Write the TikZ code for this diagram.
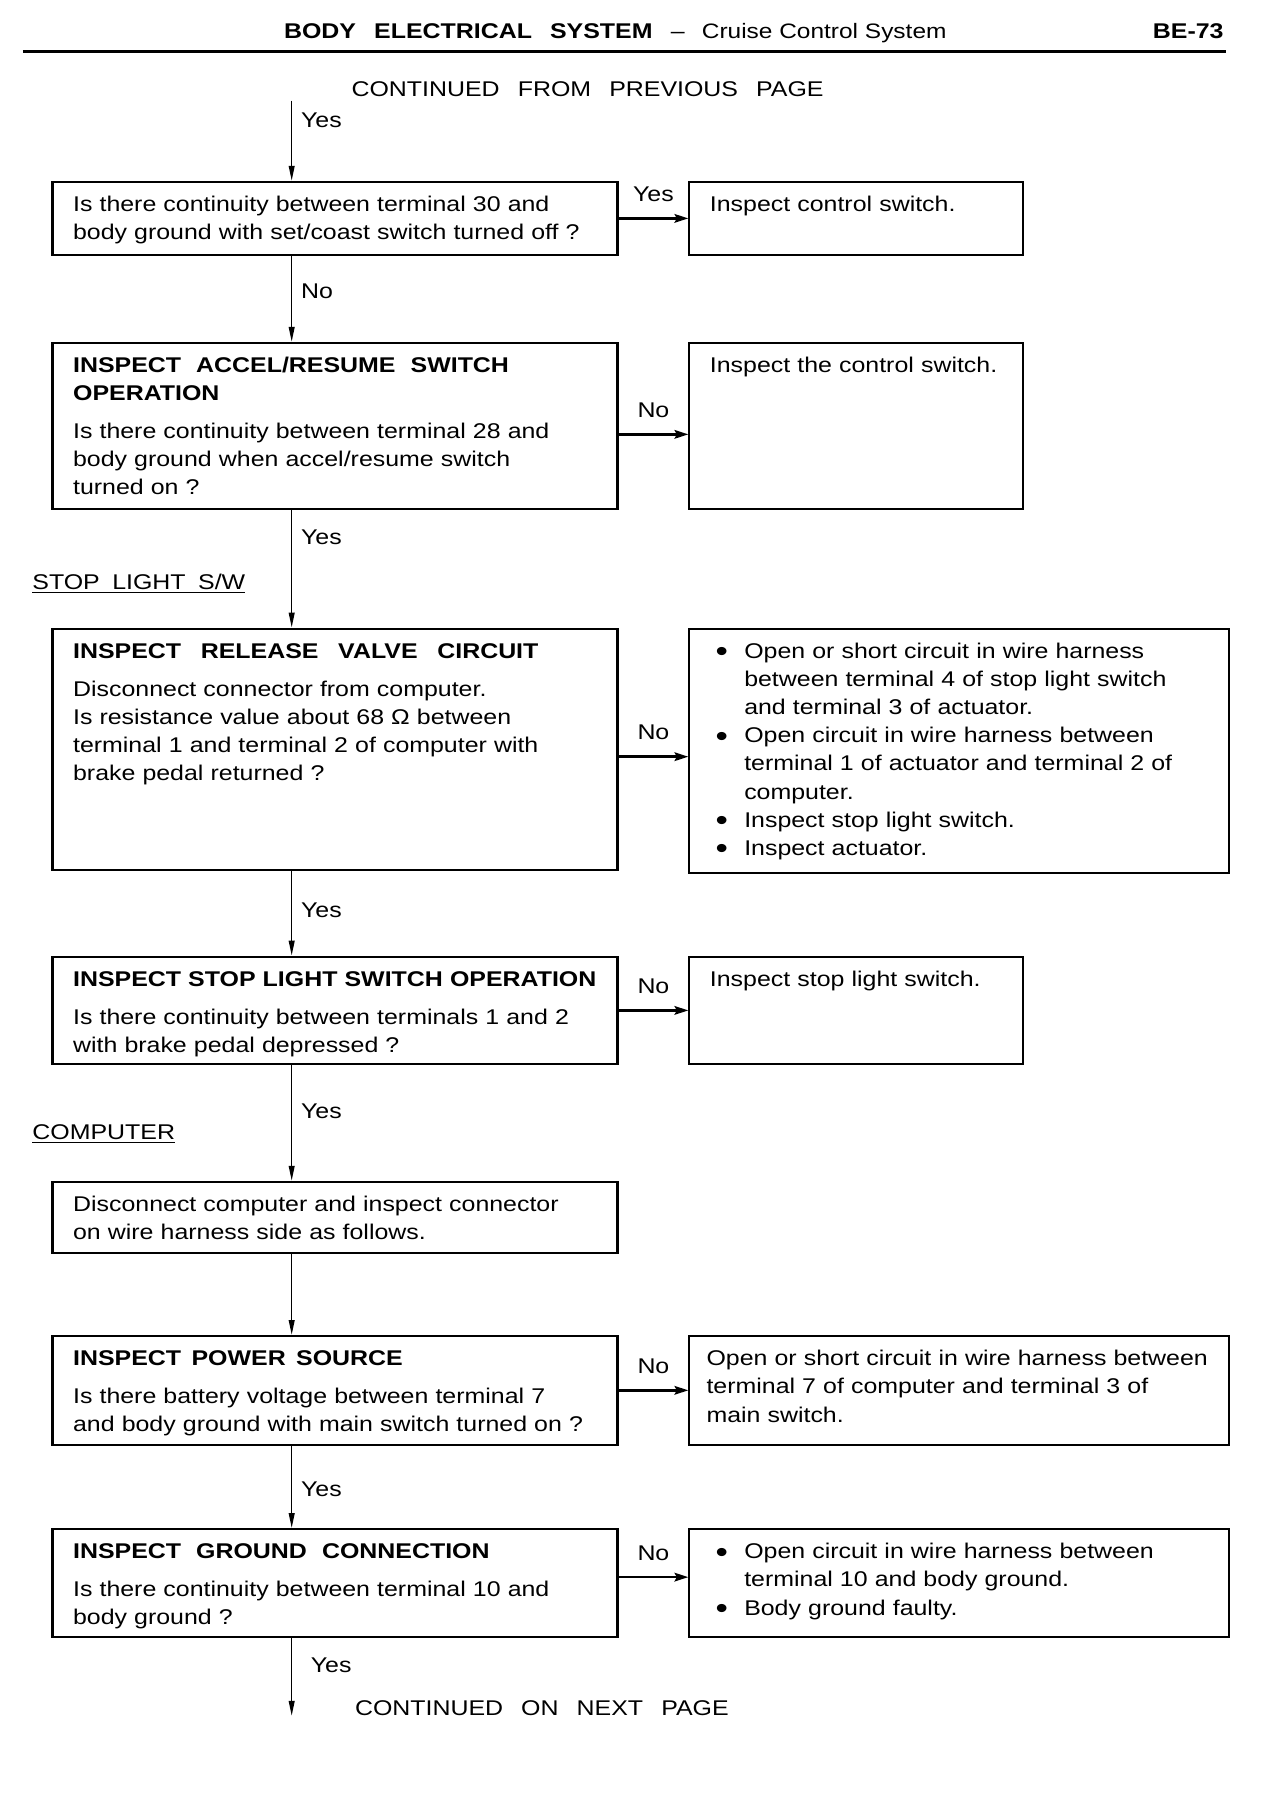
\documentclass[tikz,border=0pt]{standalone}
\usepackage{fontspec}
\setmainfont[FakeStretch=1.17]{Liberation Sans}
\usetikzlibrary{arrows.meta, positioning}

\newcommand{\setsp}[1]{\spaceskip=#1 plus 1pt minus 1pt\relax}
\newcommand{\boxtitle}[2][7.5pt]{{\bfseries\setsp{#1}#2}}
\newcommand{\bitem}[1]{\hangindent=0.6cm\hangafter=1%
    \makebox[0.6cm][l]{\kern0.1cm\raisebox{-0.3ex}{\fontsize{15}{15}\selectfont\textbullet}}#1}

\begin{document}
\begin{tikzpicture}[
        x=0.02cm, y=-0.02cm,
        cell/.style={
            draw,
            line width=1.05pt,
            anchor=north west,
            align=left,
            inner xsep=0.36cm,
            inner ysep=0.22cm,
            text height=0.3cm,
            font=\fontsize{10.6}{14}\selectfont
        },
        lbox/.style={cell, text width=9.16cm},
        sbox/.style={cell, text width=5.12cm},
        wbox/.style={cell, text width=8.72cm},
        lbl/.style={font=\fontsize{10.6}{14}\selectfont, inner sep=2pt},
        caps/.style={anchor=base west, font=\fontsize{10.6}{14}\selectfont, inner sep=0pt},
        varr/.style={line width=0.8pt, -{Triangle[length=0.26cm, width=0.1cm]}},
        harr/.style={line width=1.2pt, -{Stealth[length=0.24cm, width=0.15cm, inset=0.04cm]}}
    ]
        \path[use as bounding box, fill=white] (0,0) rectangle (1119,1573.6);

        % page head
        \node[caps] (head) at (248,34)
            {{\setsp{9pt}\textbf{BODY ELECTRICAL SYSTEM}}\hspace{0.32cm}–\hspace{0.3cm}{\fontsize{10.4}{13}\selectfont Cruise Control System}};
        \node[caps, anchor=base east] (page) at (1070,34) {\textbf{BE-73}};
        \draw[line width=1.8pt] (20,45) -- (1072,45);

        \node[caps] (cont) at (307,84) {\setsp{9pt}CONTINUED FROM PREVIOUS PAGE};
        \coordinate (top) at (255,88);

        % first question
        \node[lbox, text depth=0.54cm] (b1) at (45,158)
            {Is there continuity between terminal 30 and\\
             body ground with set/coast switch turned off ?};
        \node[sbox, text depth=0.54cm, right=1.22cm of b1.north east, anchor=north west] (r1)
            {Inspect control switch.};

        % accel/resume switch
        \node[lbox, text depth=2.16cm, below=1.5cm of b1.south west, anchor=north west] (b2)
            {\boxtitle{INSPECT ACCEL/RESUME SWITCH\\ OPERATION}\\[0.17cm]
             Is there continuity between terminal 28 and\\
             body ground when accel/resume switch\\
             turned on ?};
        \node[sbox, text depth=2.16cm, right=1.22cm of b2.north east, anchor=north west] (r2)
            {Inspect the control switch.};

        \node[caps] (stopsw) at (28,515) {\setsp{6.2pt}\underline{STOP LIGHT S/W}};

        % release valve circuit
        \node[lbox, text depth=3.48cm, below=2.06cm of b2.south west, anchor=north west] (b3)
            {\boxtitle[9.8pt]{INSPECT RELEASE VALVE CIRCUIT}\\[0.17cm]
             Disconnect connector from computer.\\
             Is resistance value about 68 Ω between\\
             terminal 1 and terminal 2 of computer with\\
             brake pedal returned ?};
        \node[wbox, text depth=3.54cm, right=1.22cm of b3.north east, anchor=north west] (r3)
            {\bitem{Open or short circuit in wire harness\newline
                    between terminal 4 of stop light switch\newline
                    and terminal 3 of actuator.}\\
             \bitem{Open circuit in wire harness between\newline
                    terminal 1 of actuator and terminal 2 of\newline
                    computer.}\\
             \bitem{Inspect stop light switch.}\\
             \bitem{Inspect actuator.}};

        % stop light switch
        \node[lbox, text depth=1.14cm, below=1.48cm of b3.south west, anchor=north west] (b4)
            {\textbf{INSPECT STOP LIGHT SWITCH OPERATION}\\[0.17cm]
             Is there continuity between terminals 1 and 2\\
             with brake pedal depressed ?};
        \node[sbox, text depth=1.14cm, right=1.22cm of b4.north east, anchor=north west] (r4)
            {Inspect stop light switch.};

        \node[caps] (comp) at (28,996) {\underline{COMPUTER}};

        % computer connector
        \node[lbox, text depth=0.5cm, below=2.02cm of b4.south west, anchor=north west] (b5)
            {Disconnect computer and inspect connector\\
             on wire harness side as follows.};

        % power source
        \node[lbox, text depth=1.16cm, below=1.42cm of b5.south west, anchor=north west] (b6)
            {\boxtitle[5.2pt]{INSPECT POWER SOURCE}\\[0.17cm]
             Is there battery voltage between terminal 7\\
             and body ground with main switch turned on ?};
        \node[wbox, text depth=1.16cm, inner xsep=0.3cm, text width=8.84cm,
              right=1.22cm of b6.north east, anchor=north west] (r6)
            {Open or short circuit in wire harness between\\
             terminal 7 of computer and terminal 3 of\\
             main switch.};

        % ground connection
        \node[lbox, text depth=1.14cm, below=1.44cm of b6.south west, anchor=north west] (b7)
            {\boxtitle{INSPECT GROUND CONNECTION}\\[0.17cm]
             Is there continuity between terminal 10 and\\
             body ground ?};
        \node[wbox, text depth=1.14cm, right=1.22cm of b7.north east, anchor=north west] (r7)
            {\bitem{Open circuit in wire harness between\newline
                    terminal 10 and body ground.}\\
             \bitem{Body ground faulty.}};

        \coordinate (bot) at (255,1500);
        \node[caps] (next) at (310,1500) {\setsp{9pt}CONTINUED ON NEXT PAGE};

        % main line
        \draw[varr] (top) -- node[lbl, right=0.08cm, pos=0.24] (yes0) {Yes} (b1.north -| top);
        \draw[varr] (b1.south -| top) -- node[lbl, right=0.08cm, pos=0.41] (no1) {No} (b2.north -| top);
        \draw[varr] (b2.south -| top) -- node[lbl, right=0.08cm, pos=0.23] (yes2) {Yes} (b3.north -| top);
        \draw[varr] (b3.south -| top) -- node[lbl, right=0.08cm, pos=0.46] (yes3) {Yes} (b4.north -| top);
        \draw[varr] (b4.south -| top) -- node[lbl, right=0.08cm, pos=0.40] (yes4) {Yes} (b5.north -| top);
        \draw[varr] (b5.south -| top) -- (b6.north -| top);
        \draw[varr] (b6.south -| top) -- node[lbl, right=0.08cm, pos=0.53] (yes5) {Yes} (b7.north -| top);
        \draw[varr] (b7.south -| top) -- node[lbl, right=0.25cm, pos=0.35] (yes6) {Yes} (bot);

        % side branches
        \coordinate (out2) at ([yshift=-0.15cm]b2.east);
        \coordinate (out3) at ([yshift=-0.13cm]b3.east);
        \coordinate (out7) at ([yshift=0.1cm]b7.east);
        \draw[harr] (b1.east) -- node[lbl, above=0.2cm, midway] (yes1) {Yes} (b1.east -| r1.west);
        \draw[harr] (out2) -- node[lbl, above=0.2cm, midway] (no2) {No} (out2 -| r2.west);
        \draw[harr] (out3) -- node[lbl, above=0.2cm, midway] (no3) {No} (out3 -| r3.west);
        \draw[harr] (b4.east) -- node[lbl, above=0.2cm, midway] (no4) {No} (b4.east -| r4.west);
        \draw[harr] (b6.east) -- node[lbl, above=0.2cm, midway] (no6) {No} (b6.east -| r6.west);
        \draw[harr] (out7) -- node[lbl, above=0.2cm, midway] (no7) {No} (out7 -| r7.west);
    \end{tikzpicture}
\end{document}
